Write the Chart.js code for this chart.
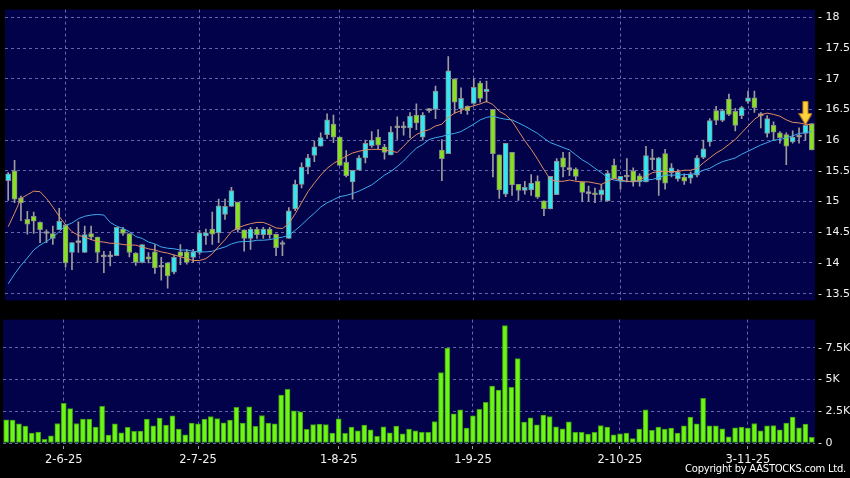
<!DOCTYPE html>
<html>
<head>
<meta charset="utf-8">
<script src="https://cdn.jsdelivr.net/npm/chart.js@4.4.1/dist/chart.umd.min.js"></script>
<style>
  html, body { margin: 0; padding: 0; background: #000; }
  #wrap { position: relative; width: 850px; height: 478px; background: #000; overflow: hidden; }
  #price { position: absolute; left: 0; top: 0; }
  #volume { position: absolute; left: 0; top: 310px; }
  .copy { position: absolute; right: 4px; top: 463px; color: #fff; font: 10px 'DejaVu Sans', sans-serif; letter-spacing: -0.25px; white-space: nowrap; }
</style>
</head>
<body>
<div id="wrap">
  <canvas id="price" width="850" height="310"></canvas>
  <canvas id="volume" width="850" height="168"></canvas>
  <div class="copy">Copyright by AASTOCKS.com Ltd.</div>
</div>
<script>
// daily candles, oldest first
const open = [
  15.34,15.50,15.06,14.71,14.76,14.66,14.48,14.48,14.54,14.62,
  14.17,14.33,14.17,14.48,14.42,14.10,14.10,14.12,14.55,14.48,
  14.16,14.01,14.10,14.18,13.93,14.00,13.85,14.18,14.18,14.09,
  14.17,14.44,14.55,14.49,14.79,14.92,14.99,14.54,14.40,14.55,
  14.46,14.55,14.47,14.30,14.40,14.88,15.28,15.56,15.75,15.90,
  16.09,16.26,16.05,15.64,15.32,15.51,15.71,15.91,16.05,15.89,
  15.76,16.20,16.20,16.20,16.41,16.05,16.48,16.50,15.84,15.78,
  17.00,16.51,16.55,16.60,16.93,16.79,16.50,15.76,15.12,15.80,
  15.28,15.18,15.19,15.33,15.01,14.88,15.11,15.71,15.52,15.53,
  15.32,15.13,15.14,15.11,15.01,15.59,15.34,15.40,15.50,15.42,
  15.32,15.68,15.35,15.78,15.47,15.37,15.40,15.38,15.43,15.72,
  15.97,16.48,16.32,16.67,16.47,16.40,16.63,16.69,16.40,16.11,
  16.24,16.12,16.09,15.97,16.05,16.11,16.27
];
const high = [
  15.47,15.67,15.09,14.84,14.83,14.67,14.54,14.60,14.89,14.63,
  14.33,14.67,14.60,14.60,14.42,14.19,14.19,14.58,14.58,14.48,
  14.17,14.30,14.17,14.30,14.09,14.00,14.13,14.30,14.22,14.22,
  14.53,14.55,14.83,15.04,15.04,15.23,14.99,14.54,14.58,14.58,
  14.58,14.58,14.47,14.36,14.90,15.35,15.63,15.77,15.99,16.12,
  16.43,16.41,16.05,15.83,15.51,15.75,16.00,16.14,16.17,15.93,
  16.22,16.38,16.30,16.45,16.59,16.45,16.52,16.88,16.01,17.36,
  17.00,16.85,16.56,17.00,16.96,16.96,16.50,15.76,15.95,15.80,
  15.28,15.33,15.44,15.42,15.01,15.41,15.70,15.80,15.80,15.55,
  15.32,15.25,15.22,15.28,15.50,15.69,15.41,15.70,15.55,15.45,
  15.90,15.85,15.72,15.85,15.62,15.52,15.45,15.48,15.75,16.00,
  16.35,16.55,16.50,16.75,16.52,16.55,16.80,16.80,16.45,16.40,
  16.30,16.14,16.12,16.15,16.20,16.40,16.27
];
const low = [
  15.02,14.98,14.69,14.47,14.48,14.33,14.33,14.30,14.54,13.93,
  13.89,14.17,14.17,14.38,14.01,13.84,13.95,14.12,14.45,14.10,
  13.96,14.00,14.00,13.83,13.72,13.59,13.82,13.97,13.98,14.01,
  14.14,14.30,14.30,14.33,14.71,14.92,14.50,14.19,14.22,14.40,
  14.40,14.40,14.12,14.12,14.40,14.85,15.22,15.45,15.65,15.90,
  16.03,15.96,15.59,15.40,15.04,15.51,15.63,15.88,15.86,15.69,
  15.76,16.01,16.08,16.04,16.17,16.00,16.45,16.35,15.34,15.78,
  16.44,16.43,16.42,16.58,16.62,16.62,15.40,15.05,15.08,15.10,
  15.02,15.12,15.10,15.05,14.77,14.88,15.11,15.40,15.42,15.35,
  15.00,15.00,14.98,15.02,15.01,15.37,15.20,15.32,15.25,15.25,
  15.32,15.52,15.10,15.20,15.40,15.33,15.28,15.30,15.40,15.70,
  15.90,16.25,16.30,16.40,16.15,16.35,16.60,16.45,16.20,16.05,
  16.00,15.95,15.60,15.95,15.95,16.00,15.84
];
const close = [
  15.45,15.04,14.98,14.63,14.68,14.54,14.48,14.40,14.68,14.00,
  14.33,14.33,14.46,14.42,14.17,14.10,14.10,14.58,14.48,14.17,
  14.01,14.30,14.06,13.92,13.93,13.79,14.09,14.11,14.01,14.18,
  14.49,14.49,14.47,14.93,14.92,15.18,14.54,14.40,14.55,14.46,
  14.55,14.46,14.25,14.30,14.85,15.28,15.56,15.71,15.89,16.04,
  16.33,16.05,15.59,15.42,15.51,15.71,15.95,16.00,15.92,15.80,
  16.13,16.20,16.20,16.39,16.28,16.41,16.48,16.80,15.70,17.13,
  16.62,16.68,16.48,16.86,16.68,16.83,15.78,15.19,15.95,15.27,
  15.18,15.23,15.30,15.07,14.88,15.41,15.66,15.56,15.52,15.41,
  15.15,15.13,15.11,15.19,15.46,15.37,15.41,15.40,15.32,15.32,
  15.75,15.68,15.71,15.30,15.55,15.48,15.33,15.45,15.71,15.86,
  16.32,16.32,16.48,16.42,16.24,16.53,16.69,16.53,16.40,16.35,
  16.13,16.04,15.90,16.05,16.05,16.24,15.84
];
const maFast = [
  14.59,14.81,15.05,15.11,15.17,15.16,15.05,14.91,14.76,14.62,
  14.51,14.45,14.42,14.38,14.35,14.34,14.32,14.32,14.30,14.29,
  14.29,14.26,14.23,14.21,14.18,14.16,14.13,14.10,14.07,14.04,
  14.04,14.07,14.15,14.27,14.38,14.51,14.57,14.61,14.64,14.66,
  14.66,14.62,14.57,14.56,14.64,14.80,14.98,15.16,15.30,15.43,
  15.54,15.62,15.68,15.74,15.79,15.82,15.84,15.85,15.85,15.84,
  15.82,15.80,15.90,16.01,16.09,16.14,16.17,16.23,16.26,16.37,
  16.44,16.48,16.53,16.56,16.59,16.63,16.58,16.47,16.41,16.31,
  16.15,15.99,15.85,15.69,15.52,15.36,15.33,15.33,15.35,15.33,
  15.32,15.32,15.30,15.28,15.33,15.38,15.35,15.33,15.32,15.35,
  15.41,15.47,15.49,15.49,15.49,15.49,15.51,15.51,15.54,15.63,
  15.71,15.79,15.85,15.93,16.01,16.12,16.23,16.34,16.41,16.44,
  16.42,16.39,16.33,16.29,16.28,16.26,16.25
];
const maSlow = [
  13.66,13.82,13.96,14.08,14.21,14.29,14.35,14.42,14.51,14.61,
  14.65,14.72,14.76,14.78,14.79,14.78,14.66,14.60,14.56,14.51,
  14.43,14.40,14.34,14.31,14.26,14.24,14.23,14.21,14.21,14.19,
  14.18,14.18,14.19,14.23,14.26,14.31,14.34,14.35,14.35,14.37,
  14.37,14.38,14.40,14.42,14.45,14.53,14.62,14.72,14.81,14.91,
  14.98,15.03,15.08,15.10,15.13,15.17,15.22,15.27,15.35,15.43,
  15.49,15.57,15.66,15.77,15.87,15.93,16.01,16.04,16.06,16.09,
  16.11,16.14,16.20,16.26,16.33,16.37,16.39,16.36,16.34,16.33,
  16.28,16.23,16.17,16.11,16.03,15.96,15.92,15.88,15.84,15.76,
  15.68,15.62,15.54,15.47,15.39,15.35,15.33,15.33,15.33,15.33,
  15.35,15.36,15.39,15.43,15.43,15.43,15.44,15.44,15.46,15.51,
  15.54,15.60,15.65,15.68,15.71,15.77,15.82,15.87,15.92,15.96,
  16.00,16.01,16.04,16.07,16.11,16.12,16.14
];
const volume = [
  1823,1797,1510,1328,781,859,286,573,1536,3125,
  2708,1536,1875,1875,1250,2890,625,1510,807,1224,
  911,937,1875,1354,1953,1406,2135,1094,651,1562,
  1510,1875,2083,1927,1588,1797,2812,1562,2838,1302,
  2161,1562,1510,3776,4218,2526,2448,1068,1458,1484,
  1458,781,1901,755,1250,963,1406,1042,521,1276,
  807,1328,729,1094,963,833,833,1693,5547,7474,
  2292,2604,1172,2135,2656,3203,4479,4166,9244,4375,
  6640,1640,1979,1432,2187,2083,1276,1120,1666,833,
  833,703,833,1380,1250,651,729,781,338,1094,
  2604,989,1250,1094,1172,781,1354,2031,1510,3515,
  1354,1354,1120,495,1198,1250,1172,1536,963,1354,
  1380,1042,1562,2031,1198,1484,443
];
const dateTickAt = [9, 30, 52, 73, 96, 116];
const dateTickText = ['2-6-25', '2-7-25', '1-8-25', '1-9-25', '2-10-25', '3-11-25'];
const priceTicks = [13.5, 14, 14.5, 15, 15.5, 16, 16.5, 17, 17.5, 18];
const volTicks = [0, 2500, 5000, 7500];
const volTickText = ['0', '2.5K', '5K', '7.5K'];
const signalAt = 125;
const signalPrice = 16.44;

const UP = '#30e8f2', DOWN = '#86e21e', FLAT = '#b0b0b0';
const GRID = 'rgba(125,125,200,0.8)';
const NAVY = '#02024a';
const labels = open.map((v, i) => i);

const areaFill = {
  id: 'areaFill',
  beforeDraw(chart) {
    const a = chart.chartArea, c = chart.ctx;
    c.save();
    c.fillStyle = NAVY;
    c.fillRect(a.left, a.top, a.right - a.left, a.bottom - a.top);
    c.restore();
  }
};

// yellow down arrow used as the signal marker
function makeArrow() {
  const cv = document.createElement('canvas');
  cv.width = 14; cv.height = 24;
  const c = cv.getContext('2d');
  c.fillStyle = '#ffd23a';
  c.strokeStyle = '#c8861a';
  c.lineWidth = 1;
  c.beginPath();
  c.moveTo(4.5, 0.5); c.lineTo(9.5, 0.5); c.lineTo(9.5, 12.5);
  c.lineTo(13.5, 12.5); c.lineTo(7, 23.5); c.lineTo(0.5, 12.5);
  c.lineTo(4.5, 12.5); c.closePath();
  c.fill(); c.stroke();
  return cv;
}

const candleColor = open.map((o, i) => close[i] > o ? UP : (close[i] < o ? DOWN : FLAT));
const signalData = open.map((v, i) => i === signalAt ? signalPrice : null);

function setDateTicks(axis) {
  axis.ticks = dateTickAt.map(v => ({ value: v }));
}

new Chart(document.getElementById('price'), {
  type: 'bar',
  data: {
    labels: labels,
    datasets: [
      {
        type: 'line', data: maFast, borderColor: '#e08c62', borderWidth: 1,
        pointRadius: 0, tension: 0, order: 1
      },
      {
        type: 'line', data: maSlow, borderColor: '#3fa9ea', borderWidth: 1,
        pointRadius: 0, tension: 0, order: 1
      },
      {
        type: 'line', data: signalData, showLine: false, pointStyle: makeArrow(),
        order: 0
      },
      {
        data: open.map((o, i) => [o, close[i]]),
        backgroundColor: candleColor,
        borderColor: '#8c8c8c', borderWidth: 1, borderSkipped: false,
        barThickness: 5, minBarLength: 2, grouped: false, order: 2
      },
      {
        data: low.map((l, i) => [l, high[i]]),
        backgroundColor: '#9c9c9c', borderWidth: 0,
        barThickness: 1, grouped: false, order: 3
      }
    ]
  },
  options: {
    responsive: false,
    animation: false,
    events: [],
    layout: { padding: { left: 3, top: 6, bottom: 4, right: 0 } },
    plugins: { legend: { display: false }, tooltip: { enabled: false } },
    scales: {
      x: {
        offset: true,
        grid: { color: GRID, offset: false, drawTicks: false },
        border: { display: false, dash: [3, 3] },
        ticks: { display: false },
        afterBuildTicks: setDateTicks,
        afterFit: axis => { axis.height = 0; }
      },
      y: {
        position: 'right',
        min: 13.39, max: 18.126,
        grid: { color: GRID, drawTicks: false },
        border: { display: false, dash: [3, 3] },
        afterBuildTicks: axis => { axis.ticks = priceTicks.map(v => ({ value: v })); },
        afterFit: axis => { axis.width = 35; },
        ticks: {
          color: '#f2f2f2', padding: 3,
          font: { family: 'DejaVu Sans', size: 11 },
          callback: v => '- ' + v
        }
      }
    }
  },
  plugins: [areaFill]
});

new Chart(document.getElementById('volume'), {
  type: 'bar',
  data: {
    labels: labels,
    datasets: [{
      data: volume,
      backgroundColor: '#6cf515',
      borderColor: '#3f9e12', borderWidth: 1, borderSkipped: false,
      barThickness: 5
    }]
  },
  options: {
    responsive: false,
    animation: false,
    events: [],
    layout: { padding: { left: 3, top: 9, bottom: 0, right: 0 } },
    plugins: { legend: { display: false }, tooltip: { enabled: false } },
    scales: {
      x: {
        offset: true,
        grid: { color: GRID, offset: false, tickLength: 6, tickBorderDash: [0, 3, 3], tickColor: '#9a9ab0' },
        border: { display: false, dash: [3, 3] },
        afterBuildTicks: setDateTicks,
        afterFit: axis => { axis.height = 35; },
        ticks: {
          color: '#f2f2f2', padding: 4, autoSkip: false, maxRotation: 0,
          font: { family: 'DejaVu Sans', size: 11.5 },
          callback: v => dateTickText[dateTickAt.indexOf(v)]
        }
      },
      y: {
        position: 'right',
        min: 0, max: 9707,
        grid: { color: GRID, drawTicks: false },
        border: { display: false, dash: [3, 3] },
        afterBuildTicks: axis => { axis.ticks = volTicks.map(v => ({ value: v })); },
        afterFit: axis => { axis.width = 35; },
        ticks: {
          color: '#f2f2f2', padding: 3,
          font: { family: 'DejaVu Sans', size: 11 },
          callback: v => '- ' + volTickText[volTicks.indexOf(v)]
        }
      }
    }
  },
  plugins: [areaFill]
});
</script>
</body>
</html>
